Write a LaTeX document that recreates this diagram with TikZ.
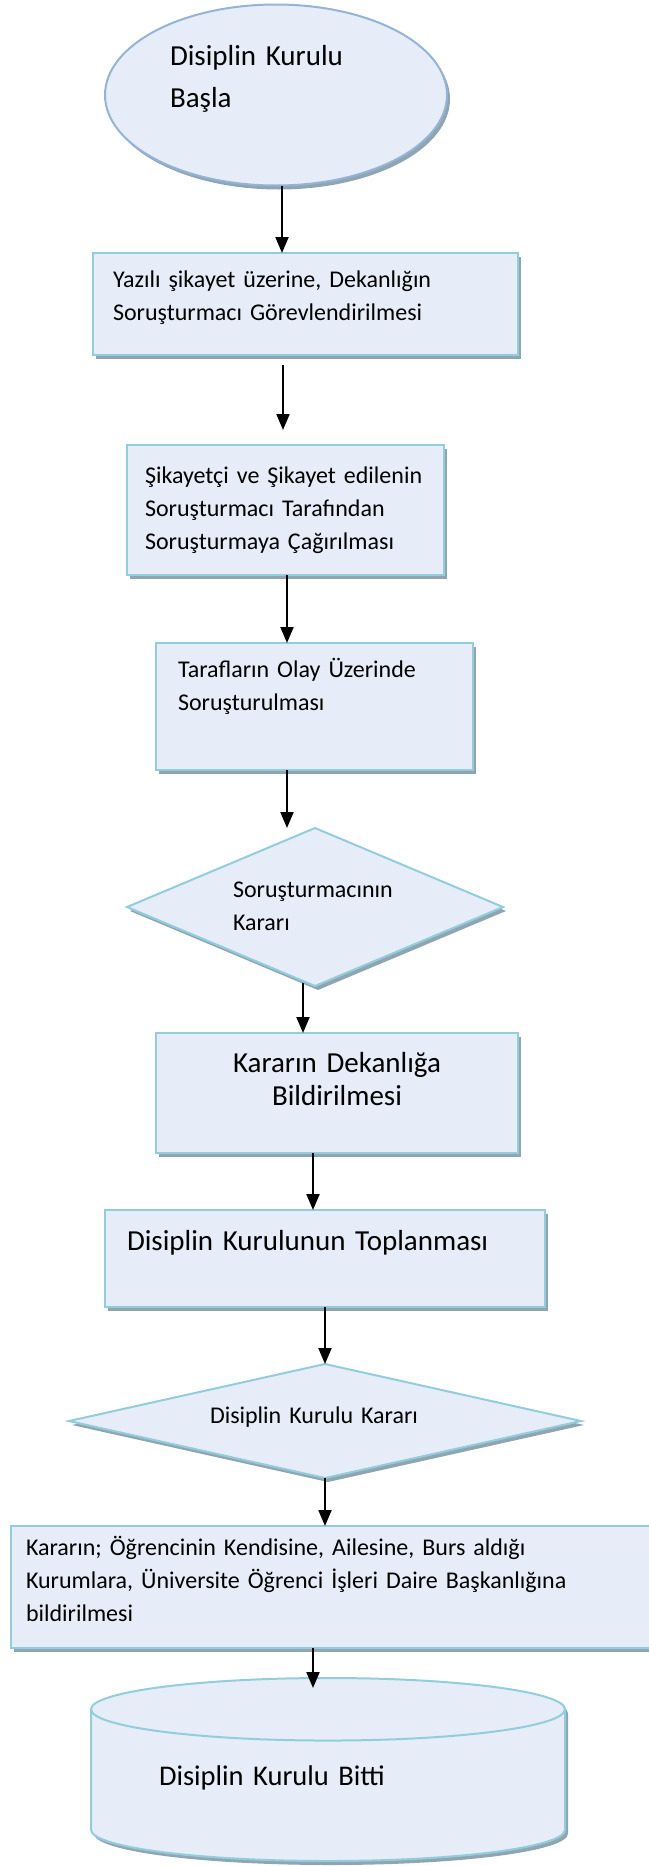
\documentclass[tikz,border=0pt]{standalone}
\usepackage{fontspec}
\setmainfont{Carlito}
\usepackage{tikz}
\usetikzlibrary{shapes.geometric,arrows.meta,positioning,shadows}
\definecolor{boxfill}{RGB}{230,237,248}
\definecolor{boxline}{RGB}{146,205,220}
\definecolor{ovalline}{RGB}{149,179,215}
\definecolor{shadowgray}{RGB}{143,166,178}
\newcommand{\smallfont}{\fontsize{24}{33}\selectfont}
\newcommand{\bigfont}{\fontsize{29}{33}\selectfont}

\begin{document}
\begin{tikzpicture}[x=1pt,y=1pt,
          boxshadow/.style={drop shadow={shadow xshift=3pt,shadow yshift=-4pt,
                            fill=shadowgray,opacity=1}},
          stepbox/.style={rectangle,draw=boxline,fill=boxfill,line width=2pt,
                          boxshadow,outer sep=0pt,inner ysep=0pt,
                          inner xsep=20pt,align=left,font=\smallfont},
          decision/.style={diamond,draw=boxline,fill=boxfill,line width=2pt,
                           boxshadow,outer sep=0pt,inner sep=0pt,align=left,
                           font=\smallfont},
          arr/.style={-{Triangle[width=13pt,length=16pt]},line width=2pt}]
  \useasboundingbox (0,0) rectangle (648,-1866);
  % start
  \node[ellipse,draw=ovalline,fill=boxfill,line width=2pt,boxshadow,
        outer sep=0pt,inner sep=0pt,minimum width=342pt,minimum height=181pt,
        text width=212pt,align=left,text height=10pt,text depth=70pt,
        font=\fontsize{29}{42}\selectfont] (start) at (276,-95)
    {Disiplin Kurulu\\Başla};
  % steps
  \node[stepbox,below=67.5pt of start,xshift=29.5pt,text width=385pt,
        text height=34pt,text depth=68pt] (b1)
    {Yazılı şikayet üzerine, Dekanlığın\\Soruşturmacı Görevlendirilmesi};
  \node[stepbox,below=90pt of b1,xshift=-20pt,inner xsep=18pt,
        text width=281pt,text height=38pt,text depth=92pt] (b2)
    {Şikayetçi ve Şikayet edilenin\\Soruşturmacı Tarafından\\Soruşturmaya Çağırılması};
  \node[stepbox,below=68pt of b2,xshift=29pt,inner xsep=22pt,text width=273pt,
        text height=34pt,text depth=93pt] (b3)
    {Tarafların Olay Üzerinde\\Soruşturulması};
  \node[decision,below=58pt of b3,xshift=0.5pt,minimum width=376pt,
        minimum height=158pt,shape aspect=2.4,text width=164pt,
        text height=5pt,text depth=25pt] (dia1)
    {Soruşturmacının\\Kararı};
  \node[stepbox,below=47pt of dia1,xshift=22pt,align=center,font=\bigfont,
        text width=322pt,text height=39pt,text depth=81pt] (b4)
    {Kararın Dekanlığa\\Bildirilmesi};
  \node[stepbox,below=57pt of b4,xshift=-12pt,font=\bigfont,inner xsep=22pt,
        text width=396pt,text height=40pt,text depth=57pt] (b5)
    {Disiplin Kurulunun Toplanması};
  \node[decision,below=57pt of b5,minimum width=512pt,minimum height=114pt,
        shape aspect=4.5,text width=230pt,text height=16pt,
        text depth=12pt] (dia2)
    {Disiplin Kurulu Kararı};
  \node[stepbox,below=48pt of dia2,xshift=8.5pt,inner xsep=15pt,
        text width=615pt,text height=29pt,text depth=93pt] (b6)
    {Kararın; Öğrencinin Kendisine, Ailesine, Burs aldığı\\
     Kurumlara, Üniversite Öğrenci İşleri Daire Başkanlığına\\
     bildirilmesi};
  % stop
  \node[cylinder,shape border rotate=90,aspect=0.185,draw=boxline,
        fill=boxfill,line width=2pt,boxshadow,outer sep=0pt,inner sep=0pt,
        minimum width=474pt,minimum height=183pt,below=30pt of b6,
        xshift=-5.5pt,text width=338pt,align=left,text height=0pt,
        text depth=0pt,font=\fontsize{28.5}{33}\selectfont] (stop)
    {Disiplin Kurulu Bitti};
  % arrows
  \draw[arr] ([xshift=6pt]start.south) -- ([xshift=-23.5pt]b1.north);
  \draw[arr] ([xshift=-22.5pt,yshift=-10pt]b1.south)
          -- ([xshift=-2.5pt,yshift=15pt]b2.north);
  \draw[arr] ([xshift=1.5pt]b2.south) -- ([xshift=-27.5pt]b3.north);
  \draw[arr] ([xshift=-27.5pt]b3.south) -- ([xshift=-28pt]dia1.north);
  \draw[arr] ([xshift=-12pt,yshift=3pt]dia1.south) -- ([xshift=-34pt]b4.north);
  \draw[arr] ([xshift=-24pt]b4.south) -- ([xshift=-12pt]b5.north);
  \draw[arr] (b5.south) -- (dia2.north);
  \draw[arr] (dia2.south) -- ([xshift=-8.5pt]b6.north);
  \draw[arr] ([xshift=-20.5pt]b6.south) -- ([xshift=-15pt,yshift=-10pt]stop.north);
\end{tikzpicture}
\end{document}
